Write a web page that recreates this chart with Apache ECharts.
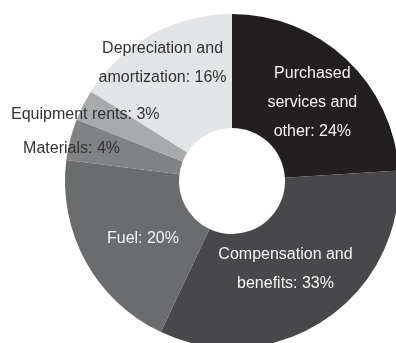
<!DOCTYPE html>
<html>
<head>
<meta charset="utf-8">
<script src="https://cdn.jsdelivr.net/npm/echarts@6/dist/echarts.min.js"></script>
<style>
  html, body { margin: 0; padding: 0; background: #ffffff; }
  #chart { width: 396px; height: 343px; }
</style>
</head>
<body>
<div id="chart"></div>
<script>
// Operating expense breakdown, percent of total
const categories = [
  'Purchased\nservices and\nother',
  'Compensation and\nbenefits',
  'Fuel',
  'Materials',
  'Equipment rents',
  'Depreciation and\namortization'
];
const shares = [24, 33, 20, 4, 3, 16];

// Slice fills and label colours
const fills = ['#231f20', '#48484a', '#6b6c6e', '#818284', '#a9aaac', '#e3e4e5'];
const textColors = ['#f4f4f4', '#f4f4f4', '#f4f4f4', '#333333', '#333333', '#333333'];
// Nudges from the default in-slice label spot
const labelOffsets = [[3, 4], [-10, -5], [10, 3], [-51, -4], [-46, -15], [-15, -19]];

const chart = echarts.init(document.getElementById('chart'), null, { renderer: 'canvas' });

const data = categories.map((name, i) => ({
  name: name,
  value: shares[i],
  itemStyle: { color: fills[i] },
  label: { color: textColors[i], offset: labelOffsets[i] }
}));

chart.setOption({
  animation: false,
  backgroundColor: '#ffffff',
  series: [{
    type: 'pie',
    center: [232, 181],
    radius: [53, 167],
    startAngle: 90,
    clockwise: true,
    avoidLabelOverlap: false,
    silent: true,
    itemStyle: { borderWidth: 0 },
    label: {
      show: true,
      position: 'inside',
      formatter: '{b}: {c}%',
      fontFamily: '"Liberation Sans", Arial, sans-serif',
      fontSize: 16,
      lineHeight: 29,
      align: 'center'
    },
    labelLine: { show: false },
    data: data
  }]
});
</script>
</body>
</html>
